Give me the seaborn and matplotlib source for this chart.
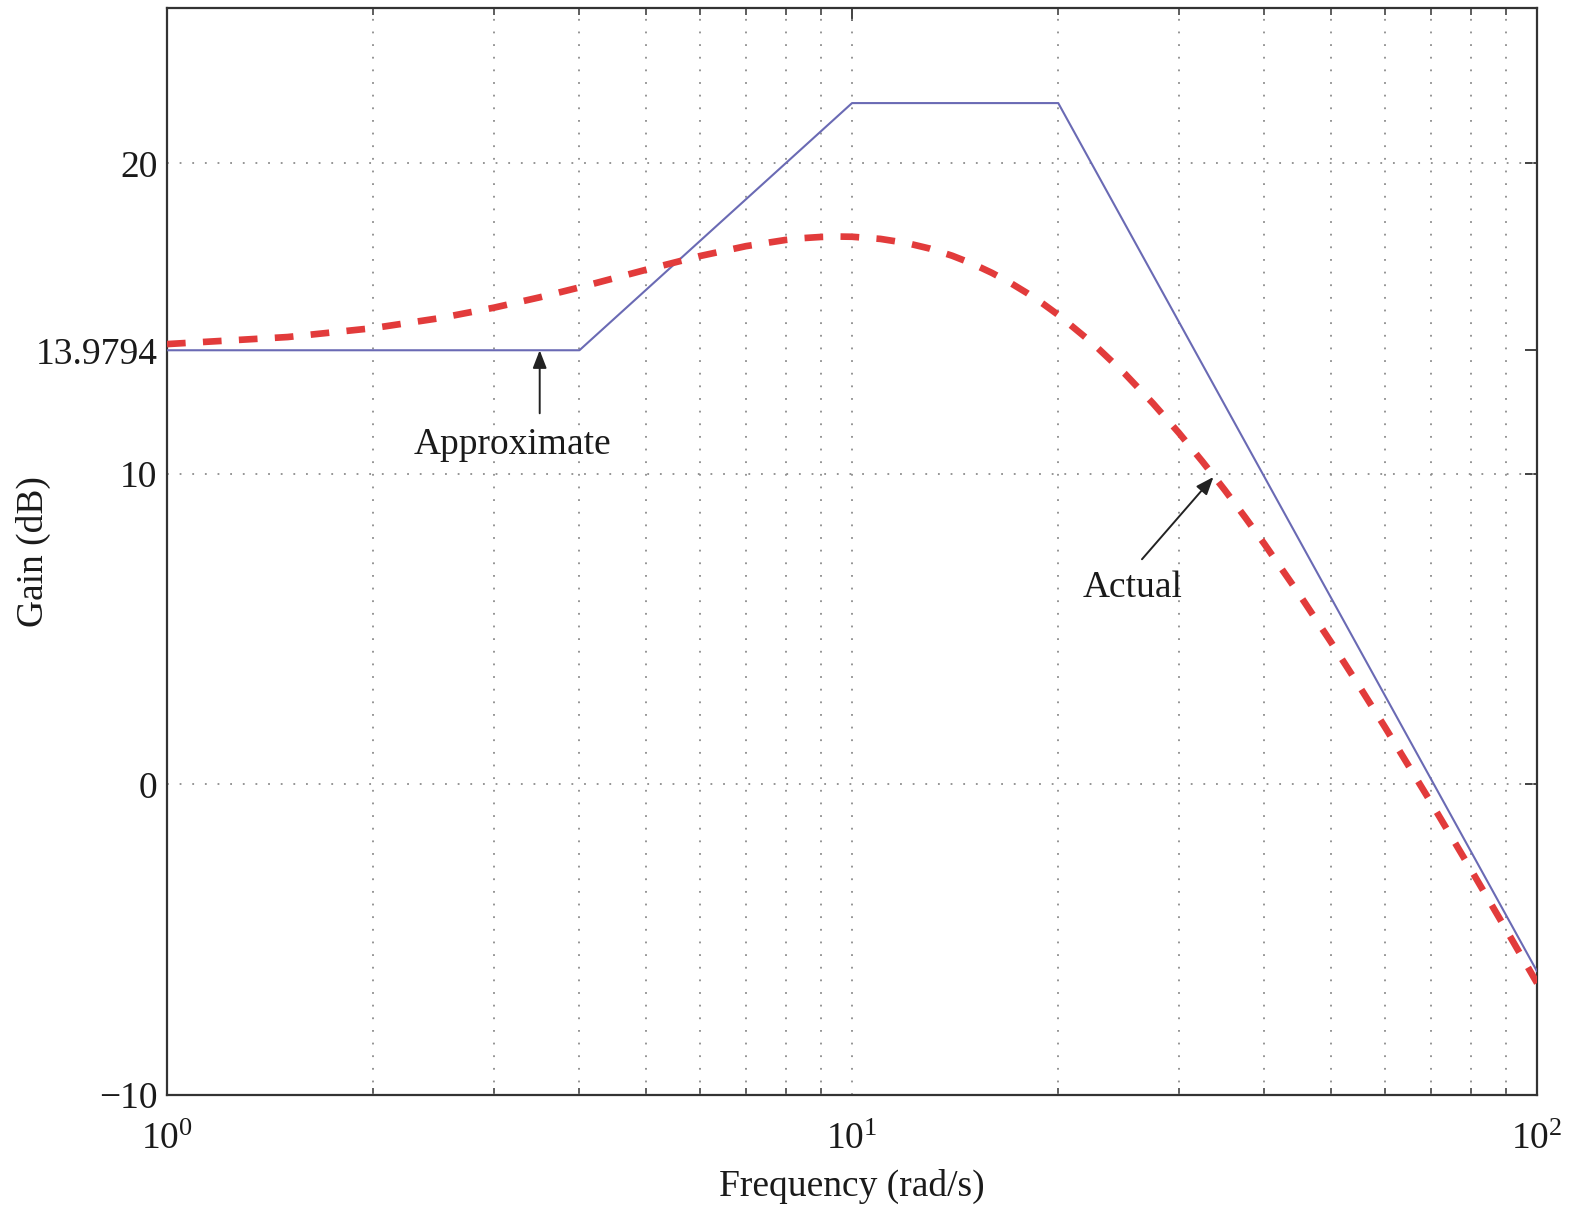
import numpy as np
import pandas as pd
import matplotlib
matplotlib.use("Agg")
import matplotlib.pyplot as plt
import seaborn as sns
from matplotlib.ticker import LogLocator, FixedLocator, NullFormatter

# Asymptotic (straight-line) Bode magnitude: corner frequencies and gains
approx_freq = [1, 4, 10, 20, 100]
approx_gain = [13.9794, 13.9794, 21.9382, 21.9382, -6.0206]

# Actual magnitude response (rad/s, dB)
actual_freq = [1, 1.5, 2, 2.5, 3, 3.5, 4, 5, 6, 7, 8, 8.5, 9, 9.5, 10, 11, 12,
               13, 14, 15, 16, 17, 18, 19, 20, 22.5, 25, 27.5, 30, 32.5, 35,
               37.5, 40, 45, 50, 55, 60, 70, 80, 90, 100]
actual_gain = [14.178, 14.405, 14.692, 15.013, 15.350, 15.684, 16.003, 16.570,
               17.014, 17.331, 17.532, 17.592, 17.627, 17.641, 17.634, 17.565,
               17.434, 17.251, 17.024, 16.763, 16.472, 16.159, 15.825, 15.477,
               15.118, 14.187, 13.231, 12.269, 11.319, 10.386, 9.479, 8.595,
               7.739, 6.109, 4.588, 3.167, 1.838, -0.580, -2.728, -4.654,
               -6.397]

y_ticks = [-10, 0, 10, 13.9794, 20]
y_tick_labels = ["\u221210", "0", "10", "13.9794", "20"]

FS = 27
TXT = "#1a1a1a"

sns.set_theme(style="white")
plt.rcParams["font.family"] = ["Liberation Serif", "DejaVu Serif"]
plt.rcParams["mathtext.fontset"] = "custom"
plt.rcParams["mathtext.rm"] = "Liberation Serif"
plt.rcParams["mathtext.it"] = "Liberation Serif:italic"
plt.rcParams["axes.unicode_minus"] = True

fig = plt.figure(figsize=(15.71, 12.11), dpi=100)
ax = fig.add_axes([0.1063, 0.0958, 0.8721, 0.8976])

df_approx = pd.DataFrame({"freq": approx_freq, "gain": approx_gain})
df_actual = pd.DataFrame({"freq": actual_freq, "gain": actual_gain})

sns.lineplot(data=df_approx, x="freq", y="gain", ax=ax, color="#6a6ab4",
             linewidth=1.5, sort=False, zorder=3)
sns.lineplot(data=df_actual, x="freq", y="gain", ax=ax, color="#e23b3b",
             linewidth=4.8, zorder=4)
ax.lines[-1].set_dashes([2.8, 2.6])
ax.lines[-1].set_dash_capstyle("butt")

ax.set_xscale("log")
ax.set_xlim(1, 100)
ax.set_ylim(-10, 25)

ax.xaxis.set_major_locator(LogLocator(base=10, numticks=5))
ax.xaxis.set_minor_locator(LogLocator(base=10, subs=np.arange(2, 10), numticks=20))
ax.xaxis.set_minor_formatter(NullFormatter())
ax.yaxis.set_major_locator(FixedLocator(y_ticks))
ax.set_yticklabels(y_tick_labels)

ax.tick_params(axis="both", which="major", direction="in", length=9, width=1.3,
               color="#333333", top=True, right=True, labelsize=FS,
               labelcolor=TXT)
ax.tick_params(axis="x", which="major", pad=20)
ax.tick_params(axis="y", which="major", pad=7)
ax.tick_params(axis="x", which="minor", direction="in", length=5, width=1.1,
               color="#333333", top=True, bottom=True)

for s in ax.spines.values():
    s.set_color("#333333")
    s.set_linewidth(1.6)

# Dotted grid on decades/minor decades and on the round gain values
grid_kw = dict(color="#8c8c8c", linestyle=(0, (1, 6)), linewidth=1.3, zorder=1)
for xv in [2, 3, 4, 5, 6, 7, 8, 9, 10, 20, 30, 40, 50, 60, 70, 80, 90]:
    ax.axvline(xv, **grid_kw)
for yv in [0, 10, 20]:
    ax.axhline(yv, **grid_kw)

ax.set_xlabel("Frequency (rad/s)", fontsize=FS, color=TXT, labelpad=8)
ax.set_ylabel("Gain (dB)", fontsize=FS, color=TXT)
ax.yaxis.set_label_coords(-0.085, 0.5)

arrow_kw = dict(arrowstyle="-|>,head_length=0.9,head_width=0.35",
                color="#222222", lw=1.4, shrinkA=0, shrinkB=0)
ax.annotate("", xy=(3.5, 13.98), xytext=(3.5, 11.95), arrowprops=arrow_kw, zorder=5)
ax.text(3.19, 10.93, "Approximate", fontsize=FS, ha="center", va="center",
        color=TXT)
ax.annotate("", xy=(33.7, 9.9), xytext=(26.5, 7.25), arrowprops=arrow_kw, zorder=5)
ax.text(25.7, 6.33, "Actual", fontsize=FS, ha="center", va="center",
        color=TXT)

fig.savefig("out.png", dpi=100)
